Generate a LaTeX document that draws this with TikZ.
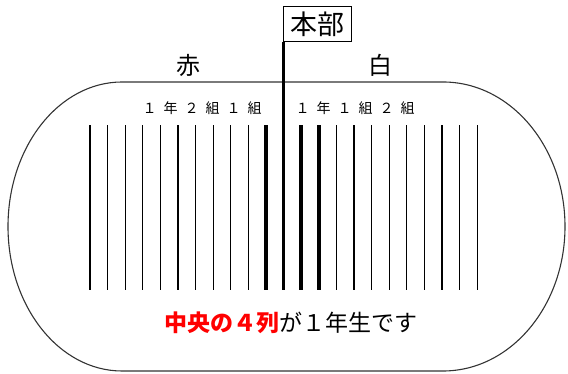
\documentclass[tikz,border=0pt]{standalone}
\usepackage{fontspec}
\setmainfont{Noto Sans CJK JP}
\usetikzlibrary{positioning}
\newcommand{\colgap}{\hspace{7pt}}

\begin{document}
\begin{tikzpicture}[x=1pt,y=1pt,
  lane/.style={line width=1.3pt},
  firstyear/.style={line width=3.8pt},
  rim/.style={line width=1.1pt,black!80}]
  \useasboundingbox (0,0) rectangle (568,374);

  \draw[rim] (122,292) -- (443,292)
    arc[start angle=90,end angle=-90,x radius=122,y radius=144.5] -- (122,3)
    arc[start angle=270,end angle=90,x radius=114,y radius=144.5];

  \node[draw,line width=0.8pt,inner sep=1pt,minimum width=68pt,minimum height=35pt,
    anchor=south west,font=\fontsize{27}{30}\selectfont] (hq) at (283.3,332) {本部};
  \coordinate (hqfoot) at (283.3,84);
  \draw[line width=3pt] (hq.south west) -- (hqfoot);

  \node[font=\fontsize{24}{28}\selectfont] (red) at (188,309) {赤};
  \node[font=\fontsize{24}{28}\selectfont] (white) at (380,309) {白};

  \node[font=\fontsize{14}{16}\selectfont] (redrows) at (202,266)
    {１\colgap 年\colgap ２\colgap 組\colgap １\colgap 組};
  \node[font=\fontsize{14}{16}\selectfont] (whiterows) at (355,266)
    {１\colgap 年\colgap １\colgap 組\colgap ２\colgap 組};

  \foreach \i in {0,...,9}
    \draw[lane] ({90+17.6*\i},84) -- ({90+17.6*\i},249);
  \foreach \i in {14,...,22}
    \draw[lane] ({90+17.6*\i},84) -- ({90+17.6*\i},249);
  \foreach \i in {10,12,13}
    \draw[firstyear] ({90+17.6*\i},84) -- ({90+17.6*\i},249);

  \node[font=\fontsize{23}{27}\selectfont] (note) at (291,51)
    {\textcolor{red}{\bfseries 中央の４列}が１年生です};
\end{tikzpicture}
\end{document}
